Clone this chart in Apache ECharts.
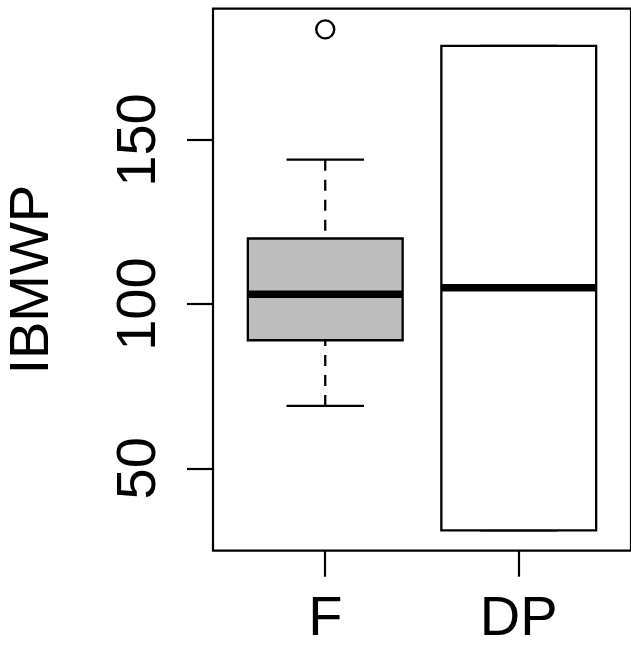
<!DOCTYPE html>
<html>
<head>
<meta charset="utf-8">
<script src="https://cdn.jsdelivr.net/npm/echarts@6/dist/echarts.min.js"></script>
<style>
html,body{margin:0;padding:0;background:#fff;}
#chart{width:631px;height:653px;}
</style>
</head>
<body>
<div id="chart"></div>
<script>
// ---- data ----
const categories = ['F', 'DP'];
const lowWhisker = [69, 31.1];
const lowerQuartile = [89, 31.1];
const medians = [103, 105];
const upperQuartile = [120, 178.7];
const highWhisker = [144, 178.7];
const outlierCategory = ['F'];
const outlierValue = [183.7];
const yTickValues = [50, 100, 150];
const boxFills = ['#BEBEBE', '#FFFFFF'];

// ---- build series data ----
const boxData = categories.map((c, i) => [i + 1, lowWhisker[i], lowerQuartile[i], medians[i], upperQuartile[i], highWhisker[i]]);
const outlierData = outlierCategory.map((c, i) => [categories.indexOf(c) + 1, outlierValue[i]]);
const xTickValues = categories.map((c, i) => i + 1);

const FONT = '"Liberation Sans", Arial, Helvetica, sans-serif';
const BOX_HALF = 0.4;
const STAPLE_HALF = 0.2;

const chart = echarts.init(document.getElementById('chart'), null, {renderer: 'canvas'});
chart.setOption({
  animation: false,
  backgroundColor: '#fff',
  grid: {
    left: 213, top: 8.7, right: 0, bottom: 102.3,
    containLabel: false, outerBoundsMode: 'none',
    show: true, borderColor: '#000', borderWidth: 2.2, backgroundColor: 'transparent'
  },
  xAxis: {
    type: 'value', min: 0.42, max: 2.58,
    axisLine: {show: false},
    splitLine: {show: false},
    axisTick: {show: true, customValues: xTickValues, length: 26, lineStyle: {color: '#000', width: 2.2}},
    axisLabel: {
      customValues: xTickValues, margin: 41, fontSize: 56, color: '#000', fontFamily: FONT,
      formatter: v => categories[Math.round(v) - 1] || ''
    }
  },
  yAxis: {
    type: 'value', min: 24.9, max: 190,
    axisLine: {show: false},
    splitLine: {show: false},
    axisTick: {show: true, customValues: yTickValues, length: 26, lineStyle: {color: '#000', width: 2.2}},
    axisLabel: {customValues: yTickValues, rotate: 90, margin: 45, fontSize: 56, color: '#000', fontFamily: FONT},
    name: 'IBMWP', nameLocation: 'middle', nameRotate: 90, nameGap: 152,
    nameTextStyle: {fontSize: 56, color: '#000', fontFamily: FONT}
  },
  series: [
    {
      type: 'custom',
      data: boxData,
      encode: {x: 0, y: [1, 2, 3, 4, 5]},
      clip: false,
      renderItem: function (params, api) {
        const x = api.value(0);
        const lo = api.value(1), q1 = api.value(2), med = api.value(3), q3 = api.value(4), hi = api.value(5);
        const idx = params.dataIndex;
        const c = api.coord([x, 0])[0];
        const boxL = api.coord([x - BOX_HALF, q3]);
        const boxR = api.coord([x + BOX_HALF, q1]);
        const stL = api.coord([x - STAPLE_HALF, 0])[0];
        const stR = api.coord([x + STAPLE_HALF, 0])[0];
        const yLo = api.coord([x, lo])[1], yQ1 = api.coord([x, q1])[1];
        const yMed = api.coord([x, med])[1], yQ3 = api.coord([x, q3])[1], yHi = api.coord([x, hi])[1];
        const children = [];
        const dashStyle = {stroke: '#000', lineWidth: 2.3, lineDash: [11, 9]};
        if (Math.abs(yHi - yQ3) > 0.5) {
          children.push({type: 'line', shape: {x1: c, y1: yHi, x2: c, y2: yQ3}, style: dashStyle});
        }
        if (Math.abs(yLo - yQ1) > 0.5) {
          children.push({type: 'line', shape: {x1: c, y1: yLo, x2: c, y2: yQ1}, style: dashStyle});
        }
        children.push({type: 'line', shape: {x1: stL, y1: yHi, x2: stR, y2: yHi}, style: {stroke: '#000', lineWidth: 2.3}});
        children.push({type: 'line', shape: {x1: stL, y1: yLo, x2: stR, y2: yLo}, style: {stroke: '#000', lineWidth: 2.3}});
        children.push({
          type: 'rect',
          shape: {x: boxL[0], y: boxL[1], width: boxR[0] - boxL[0], height: boxR[1] - boxL[1]},
          style: {fill: boxFills[idx], stroke: '#000', lineWidth: 2.3}
        });
        children.push({type: 'line', shape: {x1: boxL[0], y1: yMed, x2: boxR[0], y2: yMed}, style: {stroke: '#000', lineWidth: 7.5, lineCap: 'butt'}});
        return {type: 'group', children: children};
      }
    },
    {
      type: 'scatter',
      data: outlierData,
      symbol: 'circle',
      symbolSize: 18,
      itemStyle: {color: 'rgba(255,255,255,0)', borderColor: '#000', borderWidth: 2.4, opacity: 1},
      clip: false
    }
  ]
});
</script>
</body>
</html>
